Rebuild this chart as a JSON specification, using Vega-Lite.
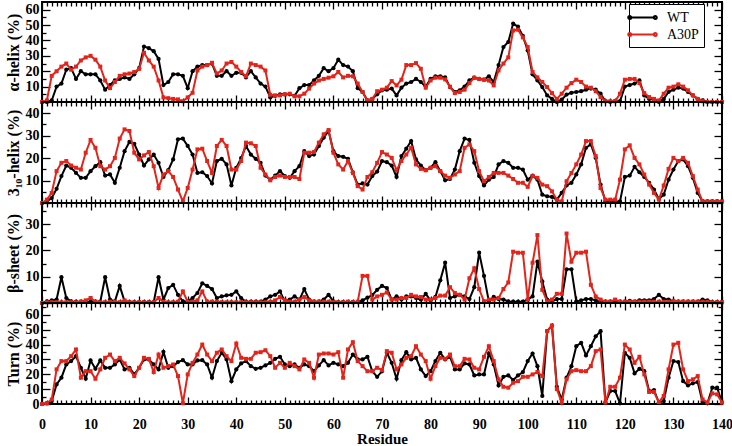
{
"$schema":"https://vega.github.io/schema/vega-lite/v6.json",
"padding":{"left":4,"top":0,"right":1,"bottom":0},
"background":"white",
"spacing":0,
"bounds":"flush",
"datasets":{"d":[
{"r":0,"s":"WT","a":0,"h":0,"b":0,"t":0},{"r":1,"s":"WT","a":0,"h":0.7,"b":0.6,"t":0.5},{"r":2,"s":"WT","a":1,"h":2.2,"b":1,"t":2},{"r":3,"s":"WT","a":10,"h":6.3,"b":1.3,"t":13.2},{"r":4,"s":"WT","a":12,"h":12,"b":9.8,"t":17.7},{"r":5,"s":"WT","a":21,"h":16.7,"b":1.9,"t":26.6},{"r":6,"s":"WT","a":22,"h":15.7,"b":0.6,"t":28.9},{"r":7,"s":"WT","a":15,"h":13.4,"b":0.5,"t":32.2},{"r":8,"s":"WT","a":20,"h":11.2,"b":0.5,"t":24.4},{"r":9,"s":"WT","a":18,"h":11.2,"b":0.5,"t":17},
{"r":10,"s":"WT","a":18,"h":14.2,"b":0.5,"t":29.3},{"r":11,"s":"WT","a":18,"h":16.4,"b":0.5,"t":23.7},{"r":12,"s":"WT","a":14,"h":18.2,"b":0.5,"t":29.3},{"r":13,"s":"WT","a":8,"h":12.2,"b":9.8,"t":24.4},{"r":14,"s":"WT","a":11,"h":12.7,"b":1.3,"t":24.4},{"r":15,"s":"WT","a":14,"h":9,"b":0.6,"t":26.6},{"r":16,"s":"WT","a":15,"h":15.7,"b":6.5,"t":30},{"r":17,"s":"WT","a":16,"h":23.1,"b":0.6,"t":23.3},{"r":18,"s":"WT","a":15,"h":27.2,"b":0.3,"t":24.4},{"r":19,"s":"WT","a":18,"h":26.4,"b":0.3,"t":19.9},
{"r":20,"s":"WT","a":22,"h":21.6,"b":0.3,"t":24.4},{"r":21,"s":"WT","a":36,"h":16.7,"b":0.3,"t":30},{"r":22,"s":"WT","a":35,"h":19.4,"b":0.3,"t":30},{"r":23,"s":"WT","a":33,"h":21.6,"b":0.3,"t":26.6},{"r":24,"s":"WT","a":28,"h":17.9,"b":9.8,"t":23.3},{"r":25,"s":"WT","a":11,"h":11.6,"b":1.3,"t":35.1},{"r":26,"s":"WT","a":13,"h":14.6,"b":5.7,"t":24.4},{"r":27,"s":"WT","a":18,"h":19.4,"b":6.9,"t":25.5},{"r":28,"s":"WT","a":18,"h":28.4,"b":3.1,"t":28.2},{"r":29,"s":"WT","a":17,"h":28.7,"b":0.6,"t":29.5},
{"r":30,"s":"WT","a":9,"h":25.4,"b":0.6,"t":26.6},{"r":31,"s":"WT","a":20,"h":21.6,"b":1.9,"t":26.6},{"r":32,"s":"WT","a":23,"h":13.4,"b":3.8,"t":29.3},{"r":33,"s":"WT","a":24,"h":13.7,"b":7.5,"t":29.5},{"r":34,"s":"WT","a":24,"h":12,"b":6.5,"t":26.6},{"r":35,"s":"WT","a":25,"h":8.7,"b":5.3,"t":17.7},{"r":36,"s":"WT","a":17,"h":18.7,"b":1.9,"t":28.9},{"r":37,"s":"WT","a":17,"h":19.7,"b":2.5,"t":34.5},{"r":38,"s":"WT","a":20,"h":17.2,"b":2.9,"t":30},{"r":39,"s":"WT","a":17,"h":7.8,"b":3.1,"t":15.4},
{"r":40,"s":"WT","a":19,"h":15.7,"b":4.4,"t":23.3},{"r":41,"s":"WT","a":19,"h":20,"b":1.9,"t":27.3},{"r":42,"s":"WT","a":16,"h":25.4,"b":0.5,"t":28.9},{"r":43,"s":"WT","a":20,"h":21.6,"b":0.5,"t":25.5},{"r":44,"s":"WT","a":16,"h":19.7,"b":0.5,"t":23.7},{"r":45,"s":"WT","a":12,"h":17.9,"b":0.5,"t":24.4},{"r":46,"s":"WT","a":10,"h":12.2,"b":1.3,"t":26},{"r":47,"s":"WT","a":3,"h":10.4,"b":2.5,"t":27.7},{"r":48,"s":"WT","a":4,"h":12.2,"b":3.1,"t":30.4},{"r":49,"s":"WT","a":5,"h":14.2,"b":4.4,"t":31.8},
{"r":50,"s":"WT","a":5,"h":12,"b":0.6,"t":26.6},{"r":51,"s":"WT","a":5,"h":11.2,"b":1.3,"t":25.5},{"r":52,"s":"WT","a":4,"h":14.2,"b":2.5,"t":26.6},{"r":53,"s":"WT","a":9,"h":16.4,"b":1.3,"t":24.4},{"r":54,"s":"WT","a":11,"h":23.1,"b":5.3,"t":26.6},{"r":55,"s":"WT","a":11,"h":20.9,"b":1.3,"t":25.5},{"r":56,"s":"WT","a":14,"h":21.6,"b":0.5,"t":22.1},{"r":57,"s":"WT","a":17,"h":25.4,"b":0.5,"t":26},{"r":58,"s":"WT","a":22,"h":29.1,"b":1.3,"t":29.5},{"r":59,"s":"WT","a":20,"h":32.1,"b":3.1,"t":26},
{"r":60,"s":"WT","a":22,"h":23.1,"b":0.6,"t":27.7},{"r":61,"s":"WT","a":27.5,"h":20.9,"b":0.3,"t":26.6},{"r":62,"s":"WT","a":24,"h":20.6,"b":0.3,"t":25.5},{"r":63,"s":"WT","a":23,"h":19.7,"b":0.3,"t":27.7},{"r":64,"s":"WT","a":20,"h":13.7,"b":0.3,"t":33.3},{"r":65,"s":"WT","a":9,"h":8.2,"b":0.3,"t":30},{"r":66,"s":"WT","a":6.5,"h":8.7,"b":1,"t":30},{"r":67,"s":"WT","a":1,"h":8.2,"b":2,"t":31.8},{"r":68,"s":"WT","a":2,"h":12,"b":3,"t":22.1},{"r":69,"s":"WT","a":5,"h":14,"b":5,"t":18.3},
{"r":70,"s":"WT","a":7.6,"h":18.7,"b":6.5,"t":22},{"r":71,"s":"WT","a":8,"h":18.2,"b":5.7,"t":34.5},{"r":72,"s":"WT","a":8.7,"h":16.7,"b":1.3,"t":27.7},{"r":73,"s":"WT","a":4.3,"h":11.6,"b":2.5,"t":17},{"r":74,"s":"WT","a":9.3,"h":20.9,"b":1.3,"t":29.5},{"r":75,"s":"WT","a":12,"h":24.2,"b":2.5,"t":34.9},{"r":76,"s":"WT","a":13,"h":27.6,"b":2.5,"t":30},{"r":77,"s":"WT","a":15,"h":19.4,"b":1.9,"t":31.1},{"r":78,"s":"WT","a":13,"h":16.7,"b":1.3,"t":23.3},{"r":79,"s":"WT","a":10,"h":14.6,"b":3.5,"t":18.8},
{"r":80,"s":"WT","a":15,"h":15.7,"b":1,"t":22.1},{"r":81,"s":"WT","a":16.7,"h":18.2,"b":2.3,"t":28.9},{"r":82,"s":"WT","a":16.7,"h":14.2,"b":8.6,"t":34.5},{"r":83,"s":"WT","a":16,"h":10.1,"b":15.3,"t":30},{"r":84,"s":"WT","a":9.7,"h":10.7,"b":1.9,"t":31.8},{"r":85,"s":"WT","a":6.5,"h":14.9,"b":2.5,"t":23.3},{"r":86,"s":"WT","a":7.6,"h":23.1,"b":3.1,"t":23.3},{"r":87,"s":"WT","a":10,"h":28.7,"b":2.5,"t":27.3},{"r":88,"s":"WT","a":14,"h":28.1,"b":1.5,"t":26.6},{"r":89,"s":"WT","a":15.8,"h":17.9,"b":6,"t":19.2},
{"r":90,"s":"WT","a":15,"h":12,"b":19.1,"t":19.9},{"r":91,"s":"WT","a":14.5,"h":7.8,"b":10.3,"t":19.9},{"r":92,"s":"WT","a":16.7,"h":10.4,"b":0.6,"t":34},{"r":93,"s":"WT","a":13,"h":11.6,"b":2.3,"t":26.6},{"r":94,"s":"WT","a":24,"h":17.2,"b":1.5,"t":12.5},{"r":95,"s":"WT","a":35.7,"h":18.7,"b":1.3,"t":18.3},{"r":96,"s":"WT","a":39,"h":17.9,"b":0.6,"t":19.2},{"r":97,"s":"WT","a":51,"h":15.7,"b":0.5,"t":16.1},{"r":98,"s":"WT","a":49,"h":15.7,"b":0.5,"t":19.2},{"r":99,"s":"WT","a":43,"h":14.9,"b":0.5,"t":21.5},
{"r":100,"s":"WT","a":33.5,"h":10.4,"b":1.3,"t":28.9},{"r":101,"s":"WT","a":18,"h":12.2,"b":2.5,"t":34},{"r":102,"s":"WT","a":14,"h":10.4,"b":15.7,"t":25.5},{"r":103,"s":"WT","a":9.7,"h":3.7,"b":8.2,"t":5.4},{"r":104,"s":"WT","a":4.3,"h":3,"b":1.3,"t":49},{"r":105,"s":"WT","a":2,"h":2.7,"b":0.6,"t":52.8},{"r":106,"s":"WT","a":0,"h":1.5,"b":1.5,"t":11.6},{"r":107,"s":"WT","a":1.5,"h":4.5,"b":1.5,"t":3},{"r":108,"s":"WT","a":4.8,"h":7.8,"b":12.8,"t":17.7},{"r":109,"s":"WT","a":6,"h":9,"b":12.8,"t":25.5},
{"r":110,"s":"WT","a":6.5,"h":12.7,"b":0.6,"t":38.9},{"r":111,"s":"WT","a":7,"h":17.2,"b":1,"t":41.2},{"r":112,"s":"WT","a":8,"h":24.6,"b":1.5,"t":32.7},{"r":113,"s":"WT","a":8.7,"h":26.1,"b":1.5,"t":38.9},{"r":114,"s":"WT","a":8,"h":20.1,"b":1,"t":45.6},{"r":115,"s":"WT","a":5.4,"h":8.2,"b":0.5,"t":49},{"r":116,"s":"WT","a":0.5,"h":0.7,"b":0.5,"t":1},{"r":117,"s":"WT","a":0,"h":0.7,"b":0.5,"t":8.7},{"r":118,"s":"WT","a":0.5,"h":0.7,"b":0.5,"t":8.7},{"r":119,"s":"WT","a":0.5,"h":0.7,"b":0.5,"t":0.5},
{"r":120,"s":"WT","a":10,"h":11.6,"b":0.5,"t":34.5},{"r":121,"s":"WT","a":11,"h":12.2,"b":0.8,"t":31.1},{"r":122,"s":"WT","a":12,"h":16.1,"b":0.5,"t":20.6},{"r":123,"s":"WT","a":14,"h":13.7,"b":1,"t":23.7},{"r":124,"s":"WT","a":4.3,"h":11.6,"b":1,"t":22.1},{"r":125,"s":"WT","a":2,"h":9,"b":1,"t":8.7},{"r":126,"s":"WT","a":1.7,"h":6,"b":1.5,"t":9.4},{"r":127,"s":"WT","a":0,"h":1.8,"b":3.1,"t":1},{"r":128,"s":"WT","a":2,"h":3.7,"b":1.5,"t":2},{"r":129,"s":"WT","a":6.5,"h":10.4,"b":1.3,"t":17.7},
{"r":130,"s":"WT","a":8,"h":14.9,"b":0.5,"t":28.9},{"r":131,"s":"WT","a":9.3,"h":18.7,"b":0.5,"t":28.2},{"r":132,"s":"WT","a":8.7,"h":19.4,"b":0.5,"t":15.4},{"r":133,"s":"WT","a":6.5,"h":16.4,"b":0.5,"t":12.5},{"r":134,"s":"WT","a":4.3,"h":11.2,"b":0.5,"t":13.9},{"r":135,"s":"WT","a":2,"h":4.5,"b":0.5,"t":14.8},{"r":136,"s":"WT","a":1,"h":0.7,"b":1.3,"t":1.3},{"r":137,"s":"WT","a":0,"h":0.7,"b":1,"t":0.5},{"r":138,"s":"WT","a":0,"h":0.7,"b":0.3,"t":11},{"r":139,"s":"WT","a":0,"h":0.7,"b":0.3,"t":11},{"r":140,"s":"WT","a":0,"h":0.7,"b":0.3,"t":1},
{"r":0,"s":"A30P","a":0,"h":0,"b":0,"t":0},{"r":1,"s":"A30P","a":1,"h":1.5,"b":0.3,"t":0.5},{"r":2,"s":"A30P","a":17,"h":4.5,"b":0.3,"t":3},{"r":3,"s":"A30P","a":20,"h":14.2,"b":0.3,"t":23.3},{"r":4,"s":"A30P","a":23,"h":17.9,"b":0.3,"t":28.9},{"r":5,"s":"A30P","a":25,"h":18.7,"b":0.3,"t":28.9},{"r":6,"s":"A30P","a":21,"h":16.7,"b":0.3,"t":32.2},{"r":7,"s":"A30P","a":23,"h":15.7,"b":0.3,"t":36.7},{"r":8,"s":"A30P","a":27,"h":14.9,"b":0.5,"t":17.7},{"r":9,"s":"A30P","a":29,"h":22.4,"b":1,"t":22.1},
{"r":10,"s":"A30P","a":30,"h":28.1,"b":1.9,"t":22.1},{"r":11,"s":"A30P","a":27.5,"h":24.6,"b":0.5,"t":17},{"r":12,"s":"A30P","a":23,"h":16.4,"b":0.3,"t":23.3},{"r":13,"s":"A30P","a":14,"h":14.9,"b":0.3,"t":31.1},{"r":14,"s":"A30P","a":9,"h":16.4,"b":0.5,"t":33.3},{"r":15,"s":"A30P","a":13,"h":20.1,"b":0.5,"t":28.9},{"r":16,"s":"A30P","a":17,"h":28.7,"b":0.3,"t":31.1},{"r":17,"s":"A30P","a":18,"h":32.8,"b":1,"t":27.3},{"r":18,"s":"A30P","a":18.5,"h":32.1,"b":0.3,"t":23.3},{"r":19,"s":"A30P","a":19.5,"h":22.4,"b":0.3,"t":18.8},
{"r":20,"s":"A30P","a":21.5,"h":19.4,"b":0.3,"t":24.4},{"r":21,"s":"A30P","a":32,"h":21.2,"b":0.3,"t":31.1},{"r":22,"s":"A30P","a":27,"h":22.7,"b":0.3,"t":30.4},{"r":23,"s":"A30P","a":23,"h":16.4,"b":0.3,"t":21.5},{"r":24,"s":"A30P","a":14,"h":6.7,"b":1.9,"t":33.3},{"r":25,"s":"A30P","a":3,"h":12.7,"b":0.5,"t":24.4},{"r":26,"s":"A30P","a":2.5,"h":14.2,"b":0.3,"t":25.5},{"r":27,"s":"A30P","a":2,"h":11.6,"b":0.3,"t":26.6},{"r":28,"s":"A30P","a":1.7,"h":6,"b":0.5,"t":18.8},{"r":29,"s":"A30P","a":0.5,"h":0.7,"b":4.4,"t":0.5},
{"r":30,"s":"A30P","a":3,"h":6.7,"b":0.5,"t":19.9},{"r":31,"s":"A30P","a":6,"h":14.9,"b":0.5,"t":27.7},{"r":32,"s":"A30P","a":20.5,"h":23.9,"b":1,"t":33.3},{"r":33,"s":"A30P","a":23,"h":24.2,"b":4.4,"t":40},{"r":34,"s":"A30P","a":24,"h":18.7,"b":0.5,"t":33.3},{"r":35,"s":"A30P","a":25.5,"h":13.4,"b":0.5,"t":28.9},{"r":36,"s":"A30P","a":18.5,"h":25.4,"b":0.5,"t":34.5},{"r":37,"s":"A30P","a":20.5,"h":28.1,"b":0.3,"t":36.7},{"r":38,"s":"A30P","a":25,"h":25.4,"b":0.3,"t":32.2},{"r":39,"s":"A30P","a":26,"h":14.9,"b":0.3,"t":28.9},
{"r":40,"s":"A30P","a":23,"h":14.9,"b":0.3,"t":40.7},{"r":41,"s":"A30P","a":19.5,"h":18.7,"b":0.3,"t":31.1},{"r":42,"s":"A30P","a":16.7,"h":26.9,"b":0.3,"t":30.4},{"r":43,"s":"A30P","a":25,"h":26.6,"b":0.3,"t":30.4},{"r":44,"s":"A30P","a":24,"h":25.4,"b":0.3,"t":34.5},{"r":45,"s":"A30P","a":23,"h":15.7,"b":0.3,"t":34.9},{"r":46,"s":"A30P","a":20.5,"h":12.7,"b":0.3,"t":36.2},{"r":47,"s":"A30P","a":4.7,"h":10.1,"b":0.5,"t":32.2},{"r":48,"s":"A30P","a":4.3,"h":11.6,"b":1,"t":24.4},{"r":49,"s":"A30P","a":4.3,"h":12.2,"b":2.3,"t":27.7},
{"r":50,"s":"A30P","a":5,"h":11.6,"b":1,"t":24.4},{"r":51,"s":"A30P","a":5.4,"h":11.6,"b":0.5,"t":27.7},{"r":52,"s":"A30P","a":3.7,"h":11.6,"b":0.5,"t":25.5},{"r":53,"s":"A30P","a":3.7,"h":10.7,"b":1.3,"t":23.3},{"r":54,"s":"A30P","a":5.4,"h":22.4,"b":2.3,"t":30},{"r":55,"s":"A30P","a":8.7,"h":22.4,"b":1,"t":27.7},{"r":56,"s":"A30P","a":12,"h":22.7,"b":0.5,"t":17.7},{"r":57,"s":"A30P","a":14,"h":26.9,"b":0.5,"t":33.3},{"r":58,"s":"A30P","a":15,"h":30.6,"b":0.5,"t":34},{"r":59,"s":"A30P","a":15.8,"h":32.5,"b":0.5,"t":34},
{"r":60,"s":"A30P","a":16.7,"h":22.4,"b":0.3,"t":33.3},{"r":61,"s":"A30P","a":19.5,"h":17.2,"b":0.3,"t":34.9},{"r":62,"s":"A30P","a":16,"h":14.9,"b":0.3,"t":17.7},{"r":63,"s":"A30P","a":17,"h":18.7,"b":0.5,"t":36.7},{"r":64,"s":"A30P","a":16.7,"h":13.4,"b":0.3,"t":41.6},{"r":65,"s":"A30P","a":12,"h":7.5,"b":0.5,"t":28.9},{"r":66,"s":"A30P","a":6.5,"h":6,"b":10.3,"t":25.5},{"r":67,"s":"A30P","a":1,"h":11.6,"b":10.3,"t":22.1},{"r":68,"s":"A30P","a":2,"h":13.7,"b":1.3,"t":22.1},{"r":69,"s":"A30P","a":7,"h":17.9,"b":2.5,"t":24.4},
{"r":70,"s":"A30P","a":8,"h":22.7,"b":3.1,"t":22.8},{"r":71,"s":"A30P","a":9.3,"h":21.6,"b":4,"t":35.6},{"r":72,"s":"A30P","a":13.6,"h":20.1,"b":1.3,"t":34.5},{"r":73,"s":"A30P","a":10.8,"h":14.6,"b":1.3,"t":23.3},{"r":74,"s":"A30P","a":14.5,"h":18.7,"b":1.9,"t":26.6},{"r":75,"s":"A30P","a":24,"h":21.6,"b":1.9,"t":31.1},{"r":76,"s":"A30P","a":24,"h":24.6,"b":3.1,"t":32.2},{"r":77,"s":"A30P","a":25.3,"h":17.2,"b":2.5,"t":38.9},{"r":78,"s":"A30P","a":21.6,"h":15.2,"b":2.3,"t":33.3},{"r":79,"s":"A30P","a":9.3,"h":14.6,"b":1.3,"t":28.9},
{"r":80,"s":"A30P","a":14,"h":15.7,"b":1.3,"t":17},{"r":81,"s":"A30P","a":15.8,"h":16.4,"b":1.9,"t":25.5},{"r":82,"s":"A30P","a":15.8,"h":14.2,"b":2.8,"t":31.1},{"r":83,"s":"A30P","a":14.7,"h":12.2,"b":2.8,"t":30.4},{"r":84,"s":"A30P","a":10,"h":11.2,"b":6,"t":33.3},{"r":85,"s":"A30P","a":5.8,"h":12.7,"b":3.8,"t":25.5},{"r":86,"s":"A30P","a":6.5,"h":14.2,"b":3.1,"t":25.5},{"r":87,"s":"A30P","a":8,"h":24.6,"b":1.3,"t":30.4},{"r":88,"s":"A30P","a":12.3,"h":26.1,"b":9.4,"t":30},{"r":89,"s":"A30P","a":15.8,"h":23.1,"b":13.2,"t":24.4},
{"r":90,"s":"A30P","a":15,"h":14.2,"b":5.3,"t":23.3},{"r":91,"s":"A30P","a":14.5,"h":9.7,"b":0.6,"t":31.8},{"r":92,"s":"A30P","a":14,"h":11.6,"b":1.3,"t":38.9},{"r":93,"s":"A30P","a":10.8,"h":13.4,"b":1.3,"t":28.9},{"r":94,"s":"A30P","a":20.5,"h":13.4,"b":1.9,"t":16.6},{"r":95,"s":"A30P","a":25,"h":13.4,"b":5.3,"t":11.6},{"r":96,"s":"A30P","a":29,"h":12.2,"b":7.8,"t":11},{"r":97,"s":"A30P","a":46.5,"h":10.7,"b":19.5,"t":14.3},{"r":98,"s":"A30P","a":47,"h":9,"b":19.1,"t":15.4},{"r":99,"s":"A30P","a":42,"h":9,"b":19.1,"t":18.3},
{"r":100,"s":"A30P","a":35.7,"h":7.2,"b":1.3,"t":18.3},{"r":101,"s":"A30P","a":19.5,"h":12,"b":15.3,"t":19.9},{"r":102,"s":"A30P","a":16,"h":11.2,"b":25.8,"t":21.5},{"r":103,"s":"A30P","a":13,"h":8.2,"b":5,"t":18.8},{"r":104,"s":"A30P","a":9.7,"h":7.5,"b":0.6,"t":49},{"r":105,"s":"A30P","a":5.8,"h":5.2,"b":1.3,"t":52.8},{"r":106,"s":"A30P","a":2,"h":1.5,"b":3.5,"t":10},{"r":107,"s":"A30P","a":5.4,"h":0.7,"b":3.5,"t":1},{"r":108,"s":"A30P","a":9.3,"h":9.7,"b":26.4,"t":16.6},{"r":109,"s":"A30P","a":12.3,"h":13.4,"b":15.7,"t":22.1},
{"r":110,"s":"A30P","a":14.5,"h":17.2,"b":19.1,"t":22.8},{"r":111,"s":"A30P","a":13,"h":21.6,"b":19.1,"t":22.1},{"r":112,"s":"A30P","a":10,"h":27.6,"b":19.5,"t":22.1},{"r":113,"s":"A30P","a":9.3,"h":27.6,"b":6.9,"t":25.5},{"r":114,"s":"A30P","a":7,"h":20.9,"b":2.5,"t":35.6},{"r":115,"s":"A30P","a":3.2,"h":6.7,"b":1.3,"t":36.7},{"r":116,"s":"A30P","a":0.5,"h":1.5,"b":0.5,"t":1},{"r":117,"s":"A30P","a":0.5,"h":1.5,"b":0.5,"t":11.6},{"r":118,"s":"A30P","a":0.5,"h":1.5,"b":1.3,"t":11.6},{"r":119,"s":"A30P","a":5.4,"h":10.4,"b":0.5,"t":17.7},
{"r":120,"s":"A30P","a":14.5,"h":23.9,"b":0.5,"t":40},{"r":121,"s":"A30P","a":15,"h":25.7,"b":0.5,"t":36.7},{"r":122,"s":"A30P","a":15,"h":20.1,"b":0.5,"t":27.7},{"r":123,"s":"A30P","a":12.3,"h":17.2,"b":0.5,"t":31.8},{"r":124,"s":"A30P","a":5.8,"h":12.7,"b":0.5,"t":19.9},{"r":125,"s":"A30P","a":3.2,"h":8.2,"b":0.5,"t":8.1},{"r":126,"s":"A30P","a":2,"h":4.5,"b":0.5,"t":8.1},{"r":127,"s":"A30P","a":1,"h":1.5,"b":0.5,"t":1.3},{"r":128,"s":"A30P","a":5.4,"h":7.8,"b":0.5,"t":5.4},{"r":129,"s":"A30P","a":9.3,"h":15.2,"b":0.5,"t":23.3},
{"r":130,"s":"A30P","a":10,"h":20.1,"b":0.8,"t":40},{"r":131,"s":"A30P","a":11.5,"h":18.7,"b":0.5,"t":41.2},{"r":132,"s":"A30P","a":10,"h":20.1,"b":0.5,"t":23.3},{"r":133,"s":"A30P","a":7.6,"h":17.9,"b":0.5,"t":15.4},{"r":134,"s":"A30P","a":4.3,"h":12,"b":0.5,"t":16.6},{"r":135,"s":"A30P","a":2,"h":6,"b":0.5,"t":18.8},{"r":136,"s":"A30P","a":0.5,"h":0.7,"b":0.5,"t":3.1},{"r":137,"s":"A30P","a":0,"h":0.7,"b":0.5,"t":1},{"r":138,"s":"A30P","a":0,"h":0.7,"b":0.3,"t":7.2},{"r":139,"s":"A30P","a":0,"h":0.7,"b":0.3,"t":6.5},{"r":140,"s":"A30P","a":0,"h":0.7,"b":0.3,"t":1}
]},
"data":{"name":"d"},
"vconcat":[
{"width":680,"height":100,
 "layer":[
  {"transform":[{"filter":"datum.s==='WT'"}],"mark":{"type":"line","strokeWidth":2},
   "encoding":{"x":{"field":"r","type":"quantitative","scale":{"domain":[0,140],"nice":false},"axis":{"orient":"bottom","tickCount":140,"labels":false,"title":null,"tickSize":{"condition":{"test":"datum.value % 10 === 0","value":-7},"value":-4}}},
   "y":{"field":"a","type":"quantitative","scale":{"domain":[0,65],"nice":false},"axis":{"orient":"left","values":[0,5,10,15,20,25,30,35,40,45,50,55,60],"labelExpr":"datum.value % 10 === 0 && datum.value > 0 ? datum.label : ''","title":"α-helix (%)","labelPadding":11,"tickSize":{"condition":{"test":"datum.value % 10 === 0","value":-8},"value":-4}}},
   "color":{"field":"s","type":"nominal","scale":{"domain":["WT","A30P"],"range":["#000000","#e3241b"]},"legend":{"orient":"none","legendX":587,"legendY":2,"title":null,"symbolType":"M-1.7,0H1.7M-1.9,0a0.2,0.2 0 1,0 0.4,0a0.2,0.2 0 1,0 -0.4,0M1.5,0a0.2,0.2 0 1,0 0.4,0a0.2,0.2 0 1,0 -0.4,0","symbolStrokeWidth":2,"symbolSize":225,"symbolFillColor":"transparent","strokeColor":"#000","fillColor":"white","padding":5,"labelFont":"Liberation Serif","labelFontSize":14,"labelColor":"#000","rowPadding":1,"labelOffset":16}}}},
  {"transform":[{"filter":"datum.s==='WT'"}],"mark":{"type":"point","shape":"circle","filled":true,"size":18,"color":"#000","opacity":1},
   "encoding":{"x":{"field":"r","type":"quantitative","axis":{"orient":"top","tickCount":140,"labels":false,"title":null,"tickSize":{"condition":{"test":"datum.value % 10 === 0","value":-7},"value":-4}}},
   "y":{"field":"a","type":"quantitative","axis":{"orient":"right","values":[0,5,10,15,20,25,30,35,40,45,50,55,60],"labels":false,"title":null,"tickSize":{"condition":{"test":"datum.value % 10 === 0","value":-8},"value":-4}}}}},
  {"transform":[{"filter":"datum.s==='A30P'"}],"mark":{"type":"line","strokeWidth":2},
   "encoding":{"x":{"field":"r","type":"quantitative","axis":null},"y":{"field":"a","type":"quantitative","axis":null},"color":{"field":"s","type":"nominal"}}},
  {"transform":[{"filter":"datum.s==='A30P'"}],"mark":{"type":"square","filled":true,"size":16,"color":"#e3241b","opacity":1},
   "encoding":{"x":{"field":"r","type":"quantitative","axis":null},"y":{"field":"a","type":"quantitative","axis":null}}}
 ],
 "resolve":{"axis":{"x":"independent","y":"independent"}}},
{"width":680,"height":101,
 "layer":[
  {"transform":[{"filter":"datum.s==='WT'"}],"mark":{"type":"line","strokeWidth":2},
   "encoding":{"x":{"field":"r","type":"quantitative","scale":{"domain":[0,140],"nice":false},"axis":{"orient":"bottom","tickCount":140,"labels":false,"title":null,"tickSize":{"condition":{"test":"datum.value % 10 === 0","value":-7},"value":-4}}},
   "y":{"field":"h","type":"quantitative","scale":{"domain":[0,45],"nice":false},"axis":{"orient":"left","values":[0,5,10,15,20,25,30,35,40],"labelExpr":"datum.value % 10 === 0 && datum.value > 0 ? datum.label : ''","title":"3₁₀-helix (%)","labelPadding":11,"tickSize":{"condition":{"test":"datum.value % 10 === 0","value":-8},"value":-4}}},
   "color":{"field":"s","type":"nominal","scale":{"domain":["WT","A30P"],"range":["#000000","#e3241b"]},"legend":null}}},
  {"transform":[{"filter":"datum.s==='WT'"}],"mark":{"type":"point","shape":"circle","filled":true,"size":18,"color":"#000","opacity":1},
   "encoding":{"x":{"field":"r","type":"quantitative","axis":{"orient":"top","tickCount":140,"labels":false,"title":null,"tickSize":{"condition":{"test":"datum.value % 10 === 0","value":-7},"value":-4}}},
   "y":{"field":"h","type":"quantitative","axis":{"orient":"right","values":[0,5,10,15,20,25,30,35,40],"labels":false,"title":null,"tickSize":{"condition":{"test":"datum.value % 10 === 0","value":-8},"value":-4}}}}},
  {"transform":[{"filter":"datum.s==='A30P'"}],"mark":{"type":"line","strokeWidth":2},
   "encoding":{"x":{"field":"r","type":"quantitative","axis":null},"y":{"field":"h","type":"quantitative","axis":null},"color":{"field":"s","type":"nominal","legend":null}}},
  {"transform":[{"filter":"datum.s==='A30P'"}],"mark":{"type":"square","filled":true,"size":16,"color":"#e3241b","opacity":1},
   "encoding":{"x":{"field":"r","type":"quantitative","axis":null},"y":{"field":"h","type":"quantitative","axis":null}}}
 ],
 "resolve":{"axis":{"x":"independent","y":"independent"}}},
{"width":680,"height":100,
 "layer":[
  {"transform":[{"filter":"datum.s==='WT'"}],"mark":{"type":"line","strokeWidth":2},
   "encoding":{"x":{"field":"r","type":"quantitative","scale":{"domain":[0,140],"nice":false},"axis":{"orient":"bottom","tickCount":140,"labels":false,"title":null,"tickSize":{"condition":{"test":"datum.value % 10 === 0","value":-7},"value":-4}}},
   "y":{"field":"b","type":"quantitative","scale":{"domain":[0,38],"nice":false},"axis":{"orient":"left","values":[0,5,10,15,20,25,30,35],"labelExpr":"datum.value % 10 === 0 && datum.value > 0 ? datum.label : ''","title":"β-sheet (%)","labelPadding":11,"tickSize":{"condition":{"test":"datum.value % 10 === 0","value":-8},"value":-4}}},
   "color":{"field":"s","type":"nominal","scale":{"domain":["WT","A30P"],"range":["#000000","#e3241b"]},"legend":null}}},
  {"transform":[{"filter":"datum.s==='WT'"}],"mark":{"type":"point","shape":"circle","filled":true,"size":18,"color":"#000","opacity":1},
   "encoding":{"x":{"field":"r","type":"quantitative","axis":{"orient":"top","tickCount":140,"labels":false,"title":null,"tickSize":{"condition":{"test":"datum.value % 10 === 0","value":-7},"value":-4}}},
   "y":{"field":"b","type":"quantitative","axis":{"orient":"right","values":[0,5,10,15,20,25,30,35],"labels":false,"title":null,"tickSize":{"condition":{"test":"datum.value % 10 === 0","value":-8},"value":-4}}}}},
  {"transform":[{"filter":"datum.s==='A30P'"}],"mark":{"type":"line","strokeWidth":2},
   "encoding":{"x":{"field":"r","type":"quantitative","axis":null},"y":{"field":"b","type":"quantitative","axis":null},"color":{"field":"s","type":"nominal","legend":null}}},
  {"transform":[{"filter":"datum.s==='A30P'"}],"mark":{"type":"square","filled":true,"size":16,"color":"#e3241b","opacity":1},
   "encoding":{"x":{"field":"r","type":"quantitative","axis":null},"y":{"field":"b","type":"quantitative","axis":null}}}
 ],
 "resolve":{"axis":{"x":"independent","y":"independent"}}},
{"width":680,"height":101,
 "layer":[
  {"transform":[{"filter":"datum.s==='WT'"}],"mark":{"type":"line","strokeWidth":2},
   "encoding":{"x":{"field":"r","type":"quantitative","scale":{"domain":[0,140],"nice":false},"axis":{"orient":"bottom","tickCount":140,"labelExpr":"datum.value % 10 === 0 ? datum.label : ''","labelOverlap":false,"labelFlush":false,"labelPadding":20,"title":"Residue","titlePadding":-3,"titleFontSize":15,"tickSize":{"condition":{"test":"datum.value % 10 === 0","value":-7},"value":-4}}},
   "y":{"field":"t","type":"quantitative","scale":{"domain":[0,68],"nice":false},"axis":{"orient":"left","values":[0,5,10,15,20,25,30,35,40,45,50,55,60,65],"labelExpr":"datum.value % 10 === 0 ? datum.label : ''","title":"Turn (%)","labelPadding":11,"tickSize":{"condition":{"test":"datum.value % 10 === 0","value":-8},"value":-4}}},
   "color":{"field":"s","type":"nominal","scale":{"domain":["WT","A30P"],"range":["#000000","#e3241b"]},"legend":null}}},
  {"transform":[{"filter":"datum.s==='WT'"}],"mark":{"type":"point","shape":"circle","filled":true,"size":18,"color":"#000","opacity":1},
   "encoding":{"x":{"field":"r","type":"quantitative","axis":{"orient":"top","tickCount":140,"labels":false,"title":null,"tickSize":{"condition":{"test":"datum.value % 10 === 0","value":-7},"value":-4}}},
   "y":{"field":"t","type":"quantitative","axis":{"orient":"right","values":[0,5,10,15,20,25,30,35,40,45,50,55,60,65],"labels":false,"title":null,"tickSize":{"condition":{"test":"datum.value % 10 === 0","value":-8},"value":-4}}}}},
  {"transform":[{"filter":"datum.s==='A30P'"}],"mark":{"type":"line","strokeWidth":2},
   "encoding":{"x":{"field":"r","type":"quantitative","axis":null},"y":{"field":"t","type":"quantitative","axis":null},"color":{"field":"s","type":"nominal","legend":null}}},
  {"transform":[{"filter":"datum.s==='A30P'"}],"mark":{"type":"square","filled":true,"size":16,"color":"#e3241b","opacity":1},
   "encoding":{"x":{"field":"r","type":"quantitative","axis":null},"y":{"field":"t","type":"quantitative","axis":null}}}
 ],
 "resolve":{"axis":{"x":"independent","y":"independent"}}}
],
"resolve":{"scale":{"color":"independent"},"legend":{"color":"independent"}},
"config":{
 "view":{"stroke":"#000","strokeWidth":2},
 "axis":{"labelFont":"Liberation Serif","titleFont":"Liberation Serif","labelFontSize":14,"titleFontSize":16,"labelFontWeight":"bold","titleFontWeight":"bold","labelColor":"#000","titleColor":"#000","tickColor":"#000","tickWidth":1.3,"domain":false,"grid":false,"labelOverlap":false}
}
}
